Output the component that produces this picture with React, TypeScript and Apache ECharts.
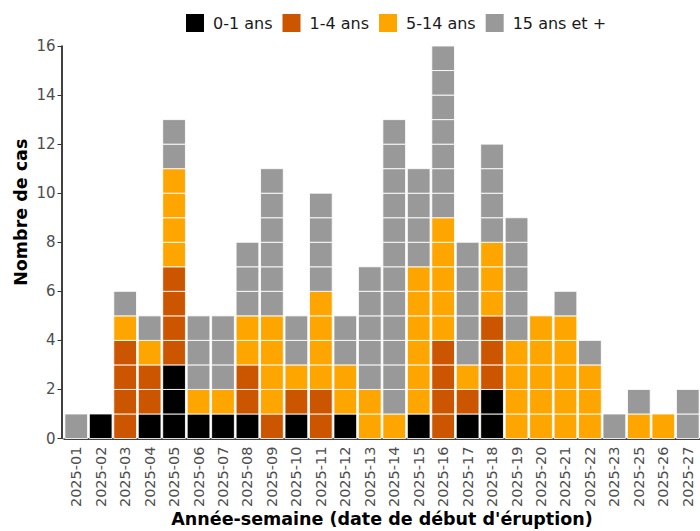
import React, { useEffect, useRef } from "react";
import * as echarts from "echarts";

const categories = [
  "2025-01", "2025-02", "2025-03", "2025-04", "2025-05", "2025-06", "2025-07",
  "2025-08", "2025-09", "2025-10", "2025-11", "2025-12", "2025-13", "2025-14",
  "2025-15", "2025-16", "2025-17", "2025-18", "2025-19", "2025-20", "2025-21",
  "2025-22", "2025-23", "2025-25", "2025-26", "2025-27",
];
const groupNames = ["0-1 ans", "1-4 ans", "5-14 ans", "15 ans et +"];
const age0to1 = [0, 1, 0, 1, 3, 1, 1, 1, 0, 1, 0, 1, 0, 0, 1, 0, 1, 2, 0, 0, 0, 0, 0, 0, 0, 0];
const age1to4 = [0, 0, 4, 2, 4, 0, 0, 2, 1, 1, 2, 0, 0, 0, 0, 4, 1, 3, 0, 0, 0, 0, 0, 0, 0, 0];
const age5to14 = [0, 0, 1, 1, 4, 1, 1, 2, 4, 1, 4, 2, 2, 1, 6, 5, 1, 3, 4, 5, 5, 3, 0, 1, 1, 0];
const age15plus = [1, 0, 1, 1, 2, 3, 3, 3, 6, 2, 4, 2, 5, 12, 4, 7, 5, 4, 5, 0, 1, 1, 1, 1, 0, 2];
const yTicks = { min: 0, max: 16, interval: 2 };

const groupValues = [age0to1, age1to4, age5to14, age15plus];
const colors = ["#000000", "#CC5500", "#FFA500", "#999999"];

export default function App() {
  const ref = useRef<HTMLDivElement>(null);
  useEffect(() => {
    if (!ref.current) return;
    const chart = echarts.init(ref.current, null, { renderer: "svg" });
    const font = "DejaVu Sans";
    const series = groupValues.map((vals, g) => ({
      type: "custom",
      name: groupNames[g],
      itemStyle: { color: colors[g] },
      encode: { x: 0, y: [1, 2] },
      data: vals.map((n, i) => {
        let base = 0;
        for (let k = 0; k < g; k++) base += groupValues[k][i];
        return [i, base, n];
      }),
      renderItem: (params: any, api: any) => {
        const i = api.value(0);
        const base = api.value(1);
        const n = api.value(2);
        const bw = api.size([1, 0])[0] * 0.93;
        const children: any[] = [];
        for (let k = 0; k < n; k++) {
          const top = api.coord([i, base + k + 1]);
          const bot = api.coord([i, base + k]);
          children.push({
            type: "rect",
            shape: { x: top[0] - bw / 2, y: top[1], width: bw, height: bot[1] - top[1] },
            style: { fill: api.visual("color"), stroke: "rgba(255,255,255,0.85)", lineWidth: 1 },
          });
        }
        return { type: "group", children };
      },
    }));
    chart.setOption({
      animation: false,
      textStyle: { fontFamily: font },
      legend: {
        data: groupNames,
        left: 181,
        top: 9,
        icon: "rect",
        itemWidth: 18,
        itemHeight: 18,
        itemGap: 10,
        textStyle: { fontFamily: font, fontSize: 16, color: "#1a1a1a", padding: [0, 0, 0, 4] },
      },
      grid: { left: 64, right: 0, top: 46, bottom: 92.5, containLabel: false, outerBoundsMode: "none" },
      xAxis: {
        type: "category",
        data: categories,
        boundaryGap: true,
        name: "Année-semaine (date de début d'éruption)",
        nameLocation: "middle",
        nameGap: 71,
        nameMoveOverlap: false,
        nameTextStyle: { fontFamily: font, fontSize: 17.5, fontWeight: "bold", color: "#000" },
        axisLine: { lineStyle: { color: "#000", width: 1.5 } },
        axisTick: { alignWithLabel: true, length: 4, lineStyle: { color: "#333" } },
        axisLabel: { rotate: 90, fontSize: 14.5, color: "#4d4d4d", margin: 8, interval: 0, fontFamily: font },
        splitLine: { show: false },
      },
      yAxis: {
        type: "value",
        min: yTicks.min,
        max: yTicks.max,
        interval: yTicks.interval,
        offset: 2.5,
        name: "Nombre de cas",
        nameLocation: "middle",
        nameGap: 32,
        nameMoveOverlap: false,
        nameTextStyle: { fontFamily: font, fontSize: 17.5, fontWeight: "bold", color: "#000", padding: [0, 0, 0, 60] },
        axisLine: { show: true, lineStyle: { color: "#000", width: 1.5 } },
        axisTick: { show: true, length: 4, lineStyle: { color: "#333" } },
        axisLabel: { fontSize: 15, color: "#4d4d4d", margin: 6, fontFamily: font },
        splitLine: { show: false },
      },
      series,
    });
    return () => chart.dispose();
  }, []);
  return (
    <div
      ref={ref}
      style={{ position: "fixed", left: 0, top: 0, width: 700, height: 531, background: "#fff" }}
    />
  );
}
